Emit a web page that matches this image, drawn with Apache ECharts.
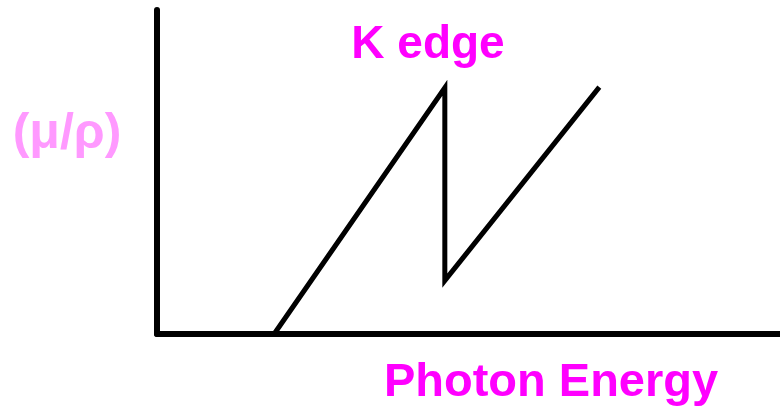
<!DOCTYPE html>
<html>
<head>
<meta charset="utf-8">
<script src="https://cdn.jsdelivr.net/npm/echarts@6/dist/echarts.min.js"></script>
<style>
html,body{margin:0;padding:0;background:#fff;}
#chart{width:780px;height:409px;}
</style>
</head>
<body>
<div id="chart"></div>
<script>
// Schematic absorption curve with K edge (arbitrary units)
const energy = [1.88, 4.62, 4.62, 7.1];
const muRho = [0, 7.6, 1.65, 7.62];
const xLabel = 'Photon Energy';
const yLabel = '(μ/ρ)';
const edgeLabel = 'K edge';

const chart = echarts.init(document.getElementById('chart'), null, {renderer: 'canvas'});
const font = '"Liberation Sans", Arial, sans-serif';
chart.setOption({
  animation: false,
  backgroundColor: '#ffffff',
  grid: {left: 157, right: 0, top: 10, bottom: 75},
  xAxis: {
    type: 'value', min: 0, max: 10,
    axisLine: {show: true, onZero: false, lineStyle: {color: '#000', width: 6}},
    axisTick: {show: false}, axisLabel: {show: false}, splitLine: {show: false}
  },
  yAxis: {
    type: 'value', min: 0, max: 10,
    axisLine: {show: true, onZero: false, lineStyle: {color: '#000', width: 6}},
    axisTick: {show: false}, axisLabel: {show: false}, splitLine: {show: false}
  },
  series: [{
    type: 'line',
    data: energy.map((x, i) => [x, muRho[i]]),
    showSymbol: false,
    symbol: 'none',
    lineStyle: {color: '#000', width: 5, join: 'miter'},
    z: 1
  }],
  graphic: [
    {type: 'text', z: 10,
     style: {text: edgeLabel, x: 428, y: 45, align: 'center', verticalAlign: 'middle',
             font: 'bold 46px ' + font, fill: '#ff00ff'}},
    {type: 'text', z: 10,
     style: {text: xLabel, x: 551, y: 383, align: 'center', verticalAlign: 'middle',
             font: 'bold 47px ' + font, fill: '#ff00ff'}},
    {type: 'text', z: 10,
     style: {text: yLabel, x: 67, y: 134, align: 'center', verticalAlign: 'middle',
             font: 'bold 50px ' + font, fill: '#ff99ff'}}
  ]
});
</script>
</body>
</html>
